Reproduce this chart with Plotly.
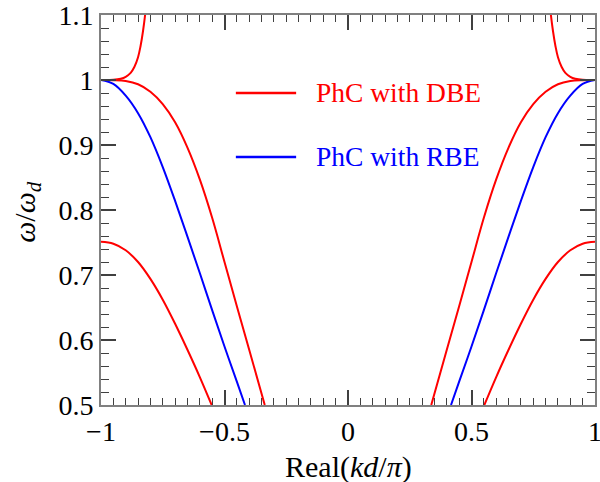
import plotly.graph_objects as go

# Left half of each band (k in units of pi/d); right half mirrors it
dbe_upper_k = [-1.0, -0.95, -0.92, -0.9, -0.88, -0.865, -0.85, -0.84, -0.83, -0.82, -0.815]
dbe_upper_w = [1.0, 1.0003, 1.002, 1.005, 1.011, 1.020, 1.035, 1.052, 1.075, 1.105, 1.125]

dbe_lower_k = [-1.0, -0.95, -0.9, -0.85, -0.8, -0.75, -0.7, -0.65, -0.6, -0.55, -0.5, -0.45, -0.4, -0.337]
dbe_lower_w = [1.0, 0.9998, 0.9985, 0.9935, 0.982, 0.963, 0.935, 0.896, 0.847, 0.788, 0.720, 0.652, 0.585, 0.5]

dbe_low_band_k = [-1.0, -0.95, -0.9, -0.85, -0.8, -0.75, -0.7, -0.65, -0.6, -0.552]
dbe_low_band_w = [0.751, 0.748, 0.738, 0.720, 0.694, 0.662, 0.625, 0.585, 0.543, 0.5]

rbe_k = [-1.0, -0.95, -0.9, -0.85, -0.8, -0.75, -0.7, -0.65, -0.6, -0.55, -0.5, -0.45, -0.417]
rbe_w = [1.0, 0.994, 0.976, 0.949, 0.912, 0.866, 0.814, 0.759, 0.703, 0.646, 0.590, 0.536, 0.5]

x_ticks = [-1, -0.5, 0, 0.5, 1]
y_ticks = [0.5, 0.6, 0.7, 0.8, 0.9, 1.0, 1.1]

legend_labels = ["PhC with DBE", "PhC with RBE"]
RED = "#ff0000"
BLUE = "#0000ff"
FONT = "Liberation Serif"


def both_sides(k, w):
    xs = list(k) + [None] + [-v for v in k]
    ys = list(w) + [None] + list(w)
    return xs, ys


fig = go.Figure()
for k, w, c in [(dbe_upper_k, dbe_upper_w, RED), (dbe_lower_k, dbe_lower_w, RED),
                (dbe_low_band_k, dbe_low_band_w, RED), (rbe_k, rbe_w, BLUE)]:
    xs, ys = both_sides(k, w)
    fig.add_trace(go.Scatter(x=xs, y=ys, mode="lines", showlegend=False,
                             line=dict(color=c, width=2, shape="spline", smoothing=1.0),
                             connectgaps=False, hoverinfo="skip"))

axis_common = dict(
    showgrid=False, zeroline=False, showline=True, linecolor="#808080", linewidth=2,
    mirror="ticks", ticks="inside", ticklen=15, tickwidth=1.5, tickcolor="#404040",
    tickfont=dict(family=FONT, size=28, color="black"), automargin=False,
    ticklabeloverflow="allow",
)
fig.update_xaxes(range=[-1, 1], tickvals=x_ticks, ticklabelstandoff=0,
                 minor=dict(ticks="inside", dtick=0.05, ticklen=7, tickwidth=1.2, tickcolor="#404040"),
                 **axis_common)
fig.update_yaxes(range=[0.5, 1.10001], tickvals=y_ticks, ticklabelstandoff=0,
                 minor=dict(ticks="inside", dtick=0.02, ticklen=8, tickwidth=1.2, tickcolor="#404040"),
                 **axis_common)

# manual legend
for yl, c, lab in [(0.80, RED, legend_labels[0]), (0.636, BLUE, legend_labels[1])]:
    fig.add_shape(type="line", xref="paper", yref="paper", x0=0.273, x1=0.395, y0=yl, y1=yl,
                  line=dict(color=c, width=2.5))
    fig.add_annotation(xref="paper", yref="paper", x=0.431, y=yl, text=lab, showarrow=False,
                       xanchor="left", yanchor="middle", font=dict(family=FONT, size=27.5, color=c))

fig.add_annotation(xref="paper", yref="paper", x=0.5, y=-0.159, text="Real(<i>kd</i>/<i>π</i>)",
                   showarrow=False, xanchor="center", yanchor="middle",
                   font=dict(family=FONT, size=30, color="black"))
fig.add_annotation(xref="paper", yref="paper", x=-0.15, y=0.495,
                   text="<i>ω</i>/<i>ω</i><sub><i>d</i></sub>", textangle=-90,
                   showarrow=False, xanchor="center", yanchor="middle",
                   font=dict(family=FONT, size=30, color="black"))

fig.update_layout(width=600, height=482, margin=dict(l=101, r=5, t=15, b=77),
                  plot_bgcolor="white", paper_bgcolor="white")
fig.write_html("out.html")
